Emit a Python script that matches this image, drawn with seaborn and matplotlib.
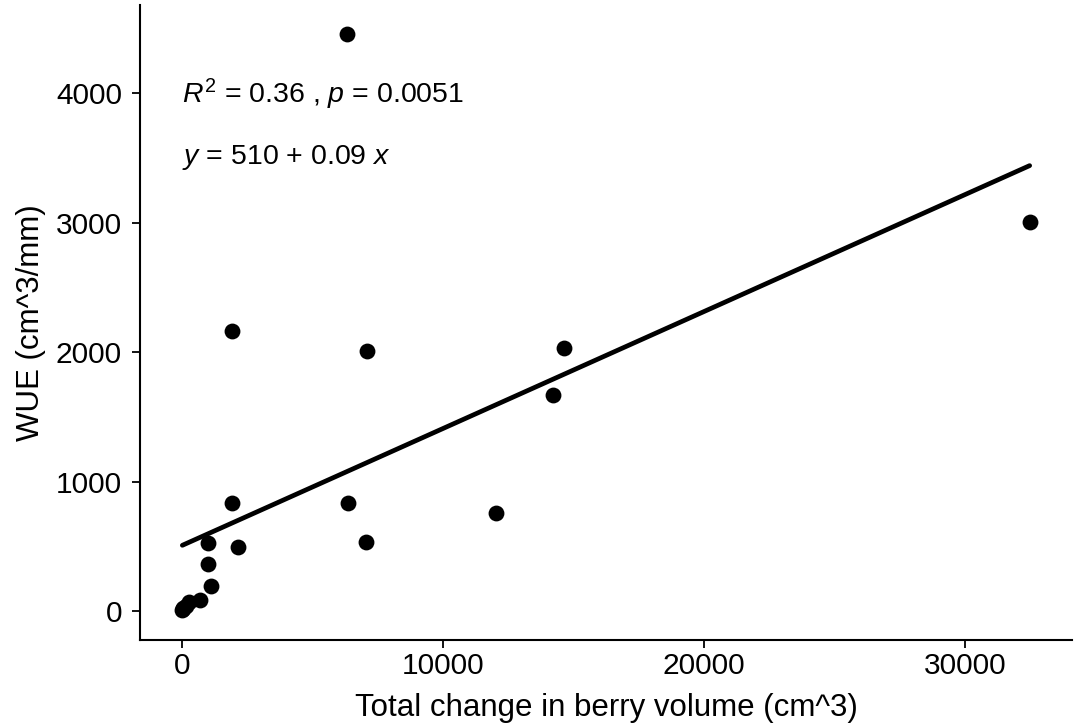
import matplotlib
matplotlib.use("Agg")
import matplotlib.pyplot as plt
import seaborn as sns
import pandas as pd

berry_volume = [0, 10, 40, 150, 270, 686, 1105, 978, 978, 1894, 1905, 2122,
                6326, 6364, 7038, 7076, 12030, 14190, 14608, 32470]
wue = [5, 15, 25, 40, 69, 85, 193, 368, 530, 2164, 834, 492,
       4460, 839, 538, 2010, 757, 1668, 2036, 3004]
x_ticks = [0, 10000, 20000, 30000]
y_ticks = [0, 1000, 2000, 3000, 4000]
stat_label = r"$R^2$ = 0.36 , $p$ = 0.0051"
eq_label = r"$y$ = 510 + 0.09 $x$"

df = pd.DataFrame({"vol": berry_volume, "wue": wue})

sns.set_style("ticks")
plt.rcParams["font.family"] = ["Liberation Sans", "DejaVu Sans"]
plt.rcParams["mathtext.fontset"] = "custom"
plt.rcParams["mathtext.rm"] = "Liberation Sans"
plt.rcParams["mathtext.it"] = "Liberation Sans:italic"
plt.rcParams["text.color"] = "black"
plt.rcParams["axes.labelcolor"] = "black"

fig = plt.figure(figsize=(10.74, 7.25), dpi=100)
ax = fig.add_axes([140/1074, 1 - 640/725, 1 - 142/1074, (640 - 5)/725])

sns.regplot(data=df, x="vol", y="wue", ax=ax, ci=None, truncate=True,
            scatter_kws=dict(s=130, color="black", alpha=1, linewidths=0),
            line_kws=dict(color="black", linewidth=3.4))

ax.set_xlim(-1623, 34093)
ax.set_ylim(-223, 4683)
ax.set_xticks(x_ticks)
ax.set_yticks(y_ticks)
ax.tick_params(axis="both", labelsize=21.5, length=6, width=1.3,
               colors="black", labelcolor="black")
ax.tick_params(axis="x", pad=3)
ax.tick_params(axis="y", pad=7)
ax.set_xlabel("Total change in berry volume (cm^3)", fontsize=22.5, labelpad=9, color="black")
ax.set_ylabel("WUE (cm^3/mm)", fontsize=22.5, labelpad=7, color="black")
for s in ["top", "right"]:
    ax.spines[s].set_visible(False)
for s in ["left", "bottom"]:
    ax.spines[s].set_linewidth(1.5)
    ax.spines[s].set_color("black")

ax.text(0, 3990, stat_label, fontsize=20.5, ha="left", va="center", color="black")
ax.text(0, 3506, eq_label, fontsize=20.5, ha="left", va="center", color="black")

fig.savefig("out.png", dpi=100)
